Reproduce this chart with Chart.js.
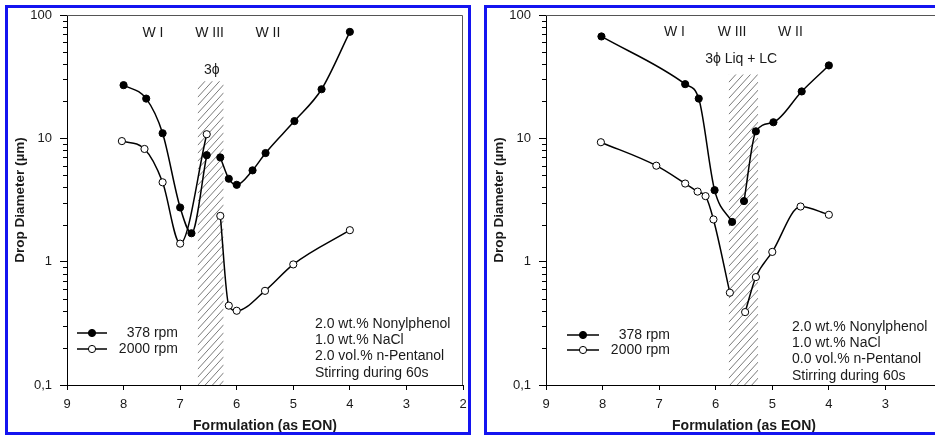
<!DOCTYPE html>
<html>
<head>
<meta charset="utf-8">
<title>Drop diameter vs formulation</title>
<script src="https://cdn.jsdelivr.net/npm/chart.js@4"></script>
<style>
  html, body { margin: 0; padding: 0; background: #fff; overflow: hidden; width: 935px; height: 438px; }
  .panel { position: absolute; border: 3px solid #1414f0; background: #fff; }
  #panelA { left: 5px; top: 5px; width: 460px; height: 424px; }
  #panelB { left: 484px; top: 5px; width: 460px; height: 424px; }
</style>
</head>
<body>
<div class="panel" id="panelA"><canvas id="chartA"></canvas></div>
<div class="panel" id="panelB"><canvas id="chartB"></canvas></div>
<script>
document.addEventListener('DOMContentLoaded', function() {

// axis ticks
const eonTicks = [9, 8, 7, 6, 5, 4, 3, 2];
const sizeTicks = [0.1, 1, 10, 100];
const sizeTickLabels = ['0,1', '1', '10', '100'];
const seriesNames = ['378 rpm', '2000 rpm'];
const zoneNames = ['W I', 'W III', 'W II'];

// 2.0 vol.% n-pentanol (null = break in the curve)
const eonA378  = [8.0, 7.6, 7.31, 7.0, 6.8, 6.53, null, 6.29, 6.14, 6.0, 5.72, 5.49, 4.98, 4.5, 4.0];
const dropA378 = [27, 21, 11, 2.75, 1.7, 7.3, null, 7.0, 4.7, 4.2, 5.5, 7.6, 13.8, 25, 73];
const eonA2000  = [8.03, 7.63, 7.31, 7.0, 6.53, null, 6.29, 6.14, 6.0, 5.5, 5.0, 4.0];
const dropA2000 = [9.5, 8.2, 4.4, 1.4, 10.8, null, 2.35, 0.44, 0.40, 0.58, 0.95, 1.8];
const bandA = [6.69, 6.23];
const bandTopA = 29;
const notesA = ['2.0 wt.% Nonylphenol', '1.0 wt.% NaCl', '2.0 vol.% n-Pentanol', 'Stirring during 60s'];
const phaseA = '3\u03d5';

// 0.0 vol.% n-pentanol
const eonB378  = [8.02, 6.54, 6.3, 6.02, 5.71, null, 5.5, 5.29, 4.98, 4.48, 4.0];
const dropB378 = [67, 27.5, 21, 3.8, 2.1, null, 3.1, 11.4, 13.5, 24, 39];
const eonB2000  = [8.03, 7.05, 6.54, 6.32, 6.18, 6.04, 5.75, null, 5.48, 5.29, 5.0, 4.5, 4.0];
const dropB2000 = [9.3, 6.0, 4.3, 3.7, 3.4, 2.2, 0.56, null, 0.39, 0.75, 1.2, 2.8, 2.4];
const bandB = [5.77, 5.25];
const bandTopB = 33;
const notesB = ['2.0 wt.% Nonylphenol', '1.0 wt.% NaCl', '0.0 vol.% n-Pentanol', 'Stirring during 60s'];
const phaseB = '3\u03d5 Liq + LC';

const FONT = '"Liberation Sans", Arial, sans-serif';
const INK = '#1a1a1a';

const toPoints = (xs, ys) => xs.map((x, i) => ({ x: x, y: ys[i] }));

function series(label, xs, ys, filled) {
  return {
    label: label,
    data: toPoints(xs, ys),
    borderColor: '#000',
    borderWidth: 1.5,
    backgroundColor: filled ? '#000' : '#fff',
    pointBackgroundColor: filled ? '#000' : '#fff',
    pointBorderColor: '#000',
    pointBorderWidth: 1,
    pointRadius: 3.6,
    cubicInterpolationMode: 'monotone',
    spanGaps: false
  };
}

// hatched band, minor log ticks, plot frame, zone labels, legend and notes
const decor = {
  id: 'decor',
  beforeDatasetsDraw(chart, args, o) {
    const { ctx, chartArea: a, scales: { x, y } } = chart;
    const x0 = x.getPixelForValue(o.band[0]);
    const x1 = x.getPixelForValue(o.band[1]);
    const yt = y.getPixelForValue(o.bandTop);
    const rise = (x1 - x0) * 1.1;
    ctx.save();
    ctx.beginPath();
    ctx.rect(x0, yt, x1 - x0, a.bottom - yt);
    ctx.clip();
    ctx.strokeStyle = '#7a7a7a';
    ctx.lineWidth = 1;
    ctx.beginPath();
    for (let k = yt - rise; k < a.bottom + rise; k += 8) {
      ctx.moveTo(x0, k + rise);
      ctx.lineTo(x1, k);
    }
    ctx.stroke();
    ctx.restore();
  },
  afterDraw(chart, args, o) {
    const { ctx, chartArea: a, scales: { x, y } } = chart;
    ctx.save();
    // frame on top and right
    ctx.strokeStyle = '#555';
    ctx.lineWidth = 1;
    ctx.beginPath();
    ctx.moveTo(a.left, a.top + 0.5);
    ctx.lineTo(a.right - 0.5, a.top + 0.5);
    ctx.lineTo(a.right - 0.5, a.bottom);
    ctx.stroke();

    // minor ticks on the log axis
    ctx.strokeStyle = '#000';
    ctx.beginPath();
    for (let d = 0; d < sizeTicks.length - 1; d++) {
      for (let m = 2; m <= 9; m++) {
        const py = Math.round(y.getPixelForValue(sizeTicks[d] * m)) + 0.5;
        ctx.moveTo(a.left - 4, py);
        ctx.lineTo(a.left, py);
      }
    }
    ctx.stroke();

    ctx.fillStyle = INK;
    ctx.textBaseline = 'middle';
    ctx.font = '14px ' + FONT;
    ctx.textAlign = 'center';
    zoneNames.forEach((t, i) => {
      ctx.fillText(t, x.getPixelForValue(o.zoneAt[i]), y.getPixelForValue(o.zoneY));
    });
    ctx.fillText(o.phase, x.getPixelForValue(o.phaseAt[0]), y.getPixelForValue(o.phaseAt[1]));

    // legend
    chart.data.datasets.forEach((ds, i) => {
      const ly = a.bottom - o.legend.y[i];
      ctx.strokeStyle = '#000';
      ctx.lineWidth = 1.5;
      ctx.beginPath();
      ctx.moveTo(a.left + o.legend.x0, ly);
      ctx.lineTo(a.left + o.legend.x1, ly);
      ctx.stroke();
      ctx.beginPath();
      ctx.arc(a.left + (o.legend.x0 + o.legend.x1) / 2, ly, 3.6, 0, Math.PI * 2);
      ctx.fillStyle = ds.pointBackgroundColor;
      ctx.fill();
      ctx.lineWidth = 1;
      ctx.stroke();
      ctx.fillStyle = INK;
      ctx.textAlign = 'right';
      ctx.fillText(ds.label, a.left + o.legend.textRight, ly);
    });

    // composition notes
    ctx.textAlign = 'left';
    o.notes.forEach((t, i) => {
      ctx.fillText(t, a.left + o.noteX, a.bottom - o.noteY + i * 16.3);
    });
    ctx.restore();
  }
};

function makeChart(id, sets, decorOpts) {
  return new Chart(document.getElementById(id), {
    type: 'line',
    data: { datasets: sets },
    plugins: [decor],
    options: {
      responsive: true,
      maintainAspectRatio: false,
      animation: false,
      layout: { padding: { top: 7, right: 3, bottom: 0, left: 0 } },
      plugins: {
        legend: { display: false },
        tooltip: { enabled: false },
        decor: decorOpts
      },
      scales: {
        x: {
          type: 'linear',
          min: 2,
          max: 9,
          reverse: true,
          afterFit: s => { s.height = 47; s.paddingLeft = 0; s.paddingRight = 0; },
          afterBuildTicks: s => { s.ticks = eonTicks.map(v => ({ value: v })); },
          border: { color: '#000', width: 1 },
          grid: { drawOnChartArea: false, tickLength: 5, tickColor: '#000' },
          ticks: { autoSkip: false, maxRotation: 0, padding: 7, color: INK, font: { family: FONT, size: 13 } },
          title: {
            display: true,
            text: 'Formulation (as EON)',
            color: INK,
            padding: 0,
            font: { family: FONT, size: 14, weight: 'bold', lineHeight: 0.8 }
          }
        },
        y: {
          type: 'logarithmic',
          min: 0.1,
          max: 100,
          afterFit: s => { s.width = 59; s.paddingTop = 0; s.paddingBottom = 0; },
          afterBuildTicks: s => { s.ticks = sizeTicks.map(v => ({ value: v })); },
          border: { color: '#000', width: 1 },
          grid: { drawOnChartArea: false, tickLength: 7, tickColor: '#000' },
          ticks: {
            autoSkip: false,
            padding: 8,
            color: INK,
            font: { family: FONT, size: 13 },
            callback: (v, i) => sizeTickLabels[i]
          },
          title: {
            display: true,
            text: 'Drop Diameter (\u00b5m)',
            color: INK,
            padding: { top: 4, bottom: 0 },
            font: { family: FONT, size: 13.5, weight: 'bold' }
          }
        }
      }
    }
  });
}

makeChart('chartA', [
  series(seriesNames[0], eonA378, dropA378, true),
  series(seriesNames[1], eonA2000, dropA2000, false)
], {
  band: bandA, bandTop: bandTopA,
  zoneAt: [7.48, 6.48, 5.45], zoneY: 71,
  phase: phaseA, phaseAt: [6.44, 36],
  legend: { x0: 10, x1: 40, y: [52, 36], textRight: 111 },
  notes: notesA, noteX: 248, noteY: 61
});

makeChart('chartB', [
  series(seriesNames[0], eonB378, dropB378, true),
  series(seriesNames[1], eonB2000, dropB2000, false)
], {
  band: bandB, bandTop: bandTopB,
  zoneAt: [6.73, 5.71, 4.68], zoneY: 72,
  phase: phaseB, phaseAt: [5.55, 44],
  legend: { x0: 21, x1: 53, y: [50, 35], textRight: 124 },
  notes: notesB, noteX: 246, noteY: 58
});

});
</script>
</body>
</html>
